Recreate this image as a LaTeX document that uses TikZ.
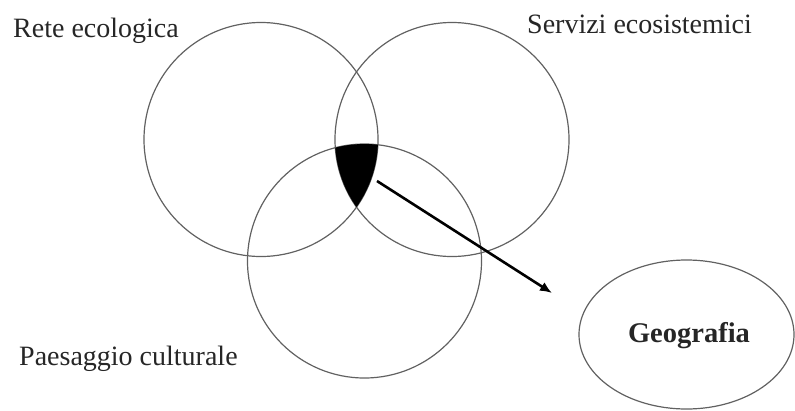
\documentclass[tikz,border=0pt]{standalone}
\usepackage{fontspec}
\setmainfont{Liberation Serif}
\usetikzlibrary{arrows.meta,shapes.geometric}
\begin{document}
\begin{tikzpicture}[x=1pt,y=-1pt,
  venn/.style={circle,draw=black!62,line width=1.2pt,minimum size=234pt,inner sep=0pt},
  lbl/.style={anchor=base west,inner sep=0pt,text=black!85,font=\fontsize{28}{30}\selectfont},
  geo/.style={ellipse,draw=black!62,line width=1.2pt,minimum width=215pt,minimum height=149pt,inner sep=0pt}]
\useasboundingbox (0,0) rectangle (795,410);
\node[venn] (L) at (261,139.5) {};
\node[venn] (R) at (452,139.5) {};
\node[venn] (B) at (364.5,261) {};
\begin{scope}
  \clip (L.center) circle[radius=117pt];
  \clip (R.center) circle[radius=117pt];
  \fill[black] (B.center) circle[radius=117pt];
\end{scope}
\node[geo] (G) at (686.5,334.5) {};
\node[font=\fontsize{28.5}{30}\selectfont\bfseries,anchor=base,inner sep=0pt,text=black!85] (Gt) at (689,342) {Geografia};
\node[lbl] (t1) at (13,37) {Rete ecologica};
\node[lbl] (t2) at (527,33) {Servizi ecosistemici};
\node[lbl] (t3) at (19,365) {Paesaggio culturale};
\coordinate (a1) at (377,181);
\coordinate (a2) at (552,293);
\draw[line width=2.6pt,-{Latex[length=12pt,width=10pt]}] (a1) -- (a2);
\end{tikzpicture}
\end{document}
